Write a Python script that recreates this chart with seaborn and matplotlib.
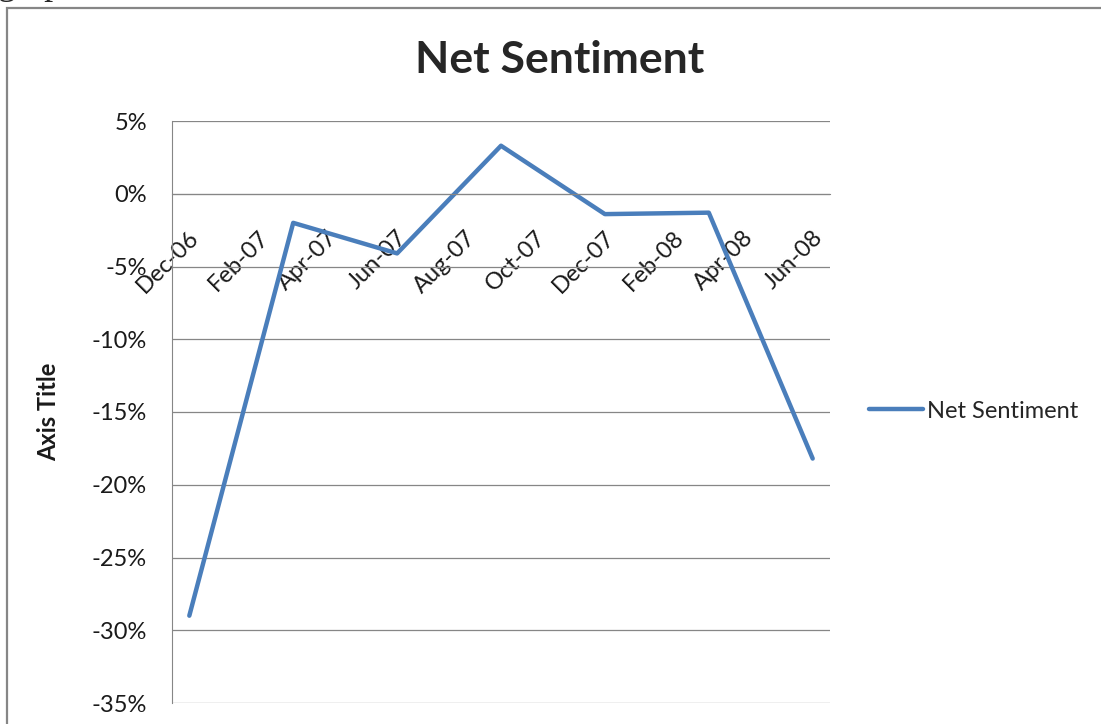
import pandas as pd
import matplotlib.pyplot as plt
import matplotlib.transforms as mtransforms
from matplotlib.patches import Rectangle
from matplotlib.ticker import PercentFormatter
import seaborn as sns

# quarterly readings, placed on a monthly date axis
months = ['2006-12', '2007-03', '2007-06', '2007-09', '2007-12', '2008-03', '2008-06']
net_sentiment = [-0.290, -0.020, -0.041, 0.033, -0.014, -0.013, -0.182]
axis_start, axis_end = '2006-12', '2008-06'
label_step = 2
y_ticks = [0.05, 0.0, -0.05, -0.10, -0.15, -0.20, -0.25, -0.30, -0.35]
series_name = 'Net Sentiment'


def build_frame():
    start = pd.Period(axis_start, freq='M')
    periods = pd.PeriodIndex(months, freq='M')
    df = pd.DataFrame({'month': [(p - start).n for p in periods],
                       'value': net_sentiment})
    n_months = (pd.Period(axis_end, freq='M') - start).n
    tick_pos = list(range(0, n_months + 1, label_step))
    tick_lab = [(start + k).strftime('%b-%y') for k in tick_pos]
    return df, n_months, tick_pos, tick_lab


def plot_line(df, n_months, tick_pos, tick_lab, output_file_path):
    sns.set_style('white')
    plt.rcParams['font.family'] = ['Lato', 'DejaVu Sans']
    plt.rcParams['axes.unicode_minus'] = False
    W, H = 1101, 724
    fs = 17
    fig = plt.figure(figsize=(W / 100, H / 100), dpi=100)
    ax = fig.add_axes([172 / W, 1 - 703 / H, (830 - 172) / W, (703 - 121) / H])

    sns.lineplot(data=df, x='month', y='value', ax=ax, color='#4A7EBB',
                 lw=3.2, label=series_name, legend=False)

    ax.set_xlim(-0.5, n_months + 0.5)
    ax.set_ylim(-0.35, 0.05)
    ax.set_yticks(y_ticks)
    ax.yaxis.set_major_formatter(PercentFormatter(1.0, decimals=0))
    ax.yaxis.grid(True, color='#868686', lw=0.9)
    ax.set_axisbelow(True)

    for side in ['top', 'right']:
        ax.spines[side].set_visible(False)
    ax.spines['left'].set_color('#868686')
    ax.spines['bottom'].set_color('#868686')
    ax.spines['bottom'].set_position(('data', 0))

    ax.set_xticks(tick_pos, tick_lab, rotation=45, ha='right', va='top',
                  rotation_mode='anchor')
    ax.tick_params(axis='x', length=0, pad=24, labelsize=fs, colors='#1a1a1a')
    ax.tick_params(axis='y', length=0, pad=18, labelsize=fs, colors='#1a1a1a')
    shift = mtransforms.ScaledTranslation(-0.01, 0, fig.dpi_scale_trans)
    for lbl in ax.get_xticklabels():
        lbl.set_transform(lbl.get_transform() + shift)

    ax.set_xlabel('')
    ax.set_ylabel('Axis Title', fontsize=fs, fontweight='bold', color='#1a1a1a')
    ax.yaxis.set_label_coords((60 - 172) / 658, 0.5)

    fig.text(560 / W, 1 - 60 / H, series_name, ha='center', va='center',
             fontsize=32, fontweight='bold')

    handles, labels = ax.get_legend_handles_labels()
    fig.legend(handles, labels, loc='center left',
               bbox_to_anchor=(869 / W, 1 - 411 / H), frameon=False,
               fontsize=fs, handlelength=2.3, handletextpad=0.15,
               borderaxespad=0, borderpad=0)

    # chart area frame, cut off at the right and bottom
    fig.patches.append(Rectangle((7 / W, -0.1), 1.2, 1 - 8 / H + 0.1,
                                 transform=fig.transFigure, fill=False,
                                 ec='#868686', lw=1.6))
    fig.text(-0.002, 1 + 6 / H, 'graph below.', family='Liberation Serif',
             fontsize=26, va='baseline')

    plt.savefig(output_file_path, dpi=100)
    plt.close()


if __name__ == "__main__":
    df, n_months, tick_pos, tick_lab = build_frame()
    plot_line(df, n_months, tick_pos, tick_lab, "out.png")
